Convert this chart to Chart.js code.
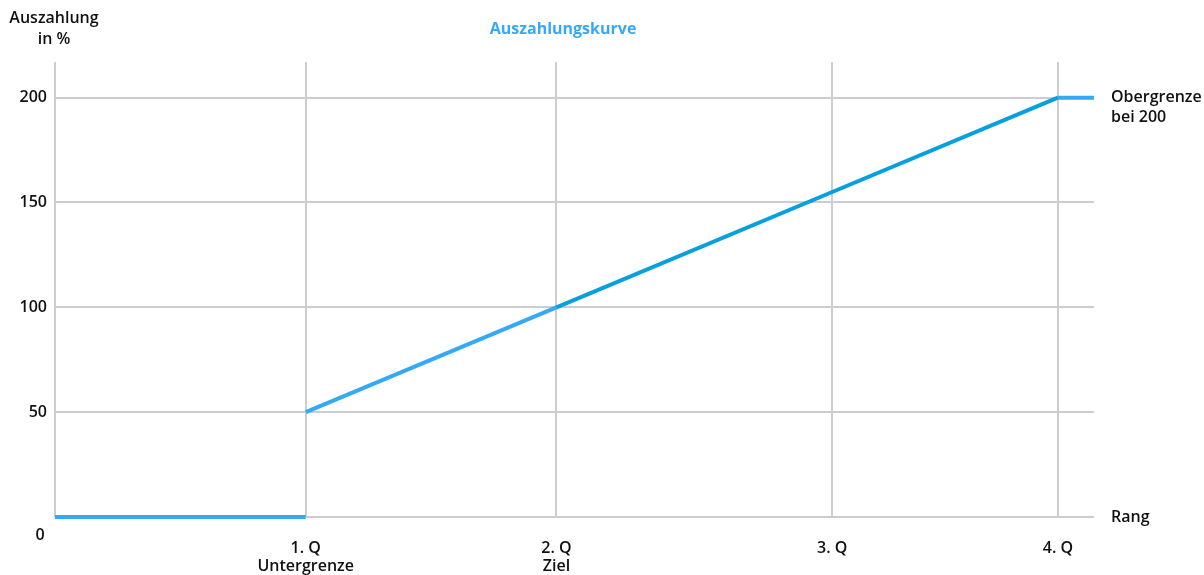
<!DOCTYPE html>
<html lang="de">
<head>
<meta charset="utf-8">
<title>Auszahlungskurve</title>
<script src="https://cdn.jsdelivr.net/npm/chart.js@4.4.1/dist/chart.umd.min.js"></script>
<style>
  html, body { margin: 0; padding: 0; background: #ffffff; }
  #wrap { position: relative; width: 1204px; height: 575px; }
</style>
</head>
<body>
<div id="wrap"><canvas id="chart" width="1204" height="575"></canvas></div>
<script>
// Rang (x) and Auszahlung in % (y) along the payout curve; null breaks the line at 1. Q
const rankPoints = [0, 25, 25, 25, 50, 77.5, 100, 103.6];
const payoutPct  = [0, 0, null, 50, 100, 155, 200, 200];

// Quartile markers on the rank axis
const xTickValues = [0, 25, 50, 77.5, 100];
const xTickLabels = ['', ['1. Q', 'Untergrenze'], ['2. Q', 'Ziel'], '3. Q', '4. Q'];

// Payout ticks
const yTickValues = [0, 50, 100, 150, 200];
const yTickLabels = ['', '50', '100', '150', '200'];

const chartTitle = 'Auszahlungskurve';
const yAxisTitle = ['Auszahlung', 'in %'];
const capLabel = ['Obergrenze', 'bei 200'];
const xAxisTitle = 'Rang';
const originLabel = '0';

const LIGHT = '#36a9f6';
const DARK = '#06a0dd';
const GRID = '#cbcdd2';
const TEXT = '#111111';
const FONT = '"Open Sans", Roboto, sans-serif';
const WEIGHT = '600';

const points = rankPoints.map((x, i) => ({ x: x, y: payoutPct[i] }));

// Extra texts: title, axis captions and the origin label
const annotationText = {
  id: 'annotationText',
  afterDraw(chart) {
    const { ctx, chartArea, scales } = chart;
    const xs = scales.x, ys = scales.y;
    ctx.save();
    ctx.textBaseline = 'middle';

    ctx.font = 'bold 16px ' + FONT;
    ctx.fillStyle = LIGHT;
    ctx.textAlign = 'center';
    ctx.fillText(chartTitle, 563, 29);

    ctx.font = WEIGHT + ' 16px ' + FONT;
    ctx.fillStyle = TEXT;
    ctx.textAlign = 'center';
    yAxisTitle.forEach((t, i) => ctx.fillText(t, chartArea.left - 1, 18 + i * 21));

    ctx.textAlign = 'left';
    const capY = ys.getPixelForValue(200);
    capLabel.forEach((t, i) => ctx.fillText(t, chartArea.right + 17, capY + i * 20));
    ctx.fillText(xAxisTitle, chartArea.right + 17, ys.getPixelForValue(0));

    ctx.textAlign = 'center';
    ctx.fillText(originLabel, xs.getPixelForValue(0) - 15, ys.getPixelForValue(0) + 18);
    ctx.restore();
  }
};

new Chart(document.getElementById('chart'), {
  type: 'line',
  data: {
    datasets: [{
      data: points,
      borderWidth: 4,
      borderColor: LIGHT,
      pointRadius: 0,
      pointHoverRadius: 0,
      spanGaps: false,
      tension: 0,
      clip: false,
      borderCapStyle: 'butt',
      segment: {
        borderColor: c => (c.p0.parsed.x >= 50 && c.p1.parsed.x <= 100) ? DARK : LIGHT
      }
    }]
  },
  options: {
    responsive: false,
    animation: false,
    events: [],
    layout: { padding: { top: 62, left: 0, right: 0, bottom: 0 } },
    plugins: {
      legend: { display: false },
      title: { display: false },
      tooltip: { enabled: false }
    },
    scales: {
      x: {
        type: 'linear',
        min: 0,
        max: 103.6,
        afterBuildTicks: s => { s.ticks = xTickValues.map(v => ({ value: v })); },
        afterFit: s => { s.height = 58; },
        border: { display: false },
        grid: { color: GRID, lineWidth: 2, drawTicks: false },
        ticks: {
          padding: 23,
          color: TEXT,
          maxRotation: 0,
          autoSkip: false,
          font: { family: FONT, size: 16, weight: WEIGHT, lineHeight: 1.1 },
          callback: v => {
            const i = xTickValues.indexOf(v);
            return i >= 0 ? xTickLabels[i] : '';
          }
        }
      },
      y: {
        type: 'linear',
        min: 0,
        max: 217,
        afterBuildTicks: s => { s.ticks = yTickValues.map(v => ({ value: v })); },
        afterFit: s => { s.width = 55; },
        border: { display: false },
        grid: { color: GRID, lineWidth: 2, drawTicks: false },
        ticks: {
          padding: 8,
          color: TEXT,
          font: { family: FONT, size: 16, weight: WEIGHT },
          callback: v => {
            const i = yTickValues.indexOf(v);
            return i >= 0 ? yTickLabels[i] : '';
          }
        }
      },
      yRight: {
        type: 'linear',
        position: 'right',
        min: 0,
        max: 217,
        afterFit: s => { s.width = 110; },
        border: { display: false },
        grid: { display: false, drawTicks: false },
        ticks: { display: false }
      }
    }
  },
  plugins: [annotationText]
});
</script>
</body>
</html>
